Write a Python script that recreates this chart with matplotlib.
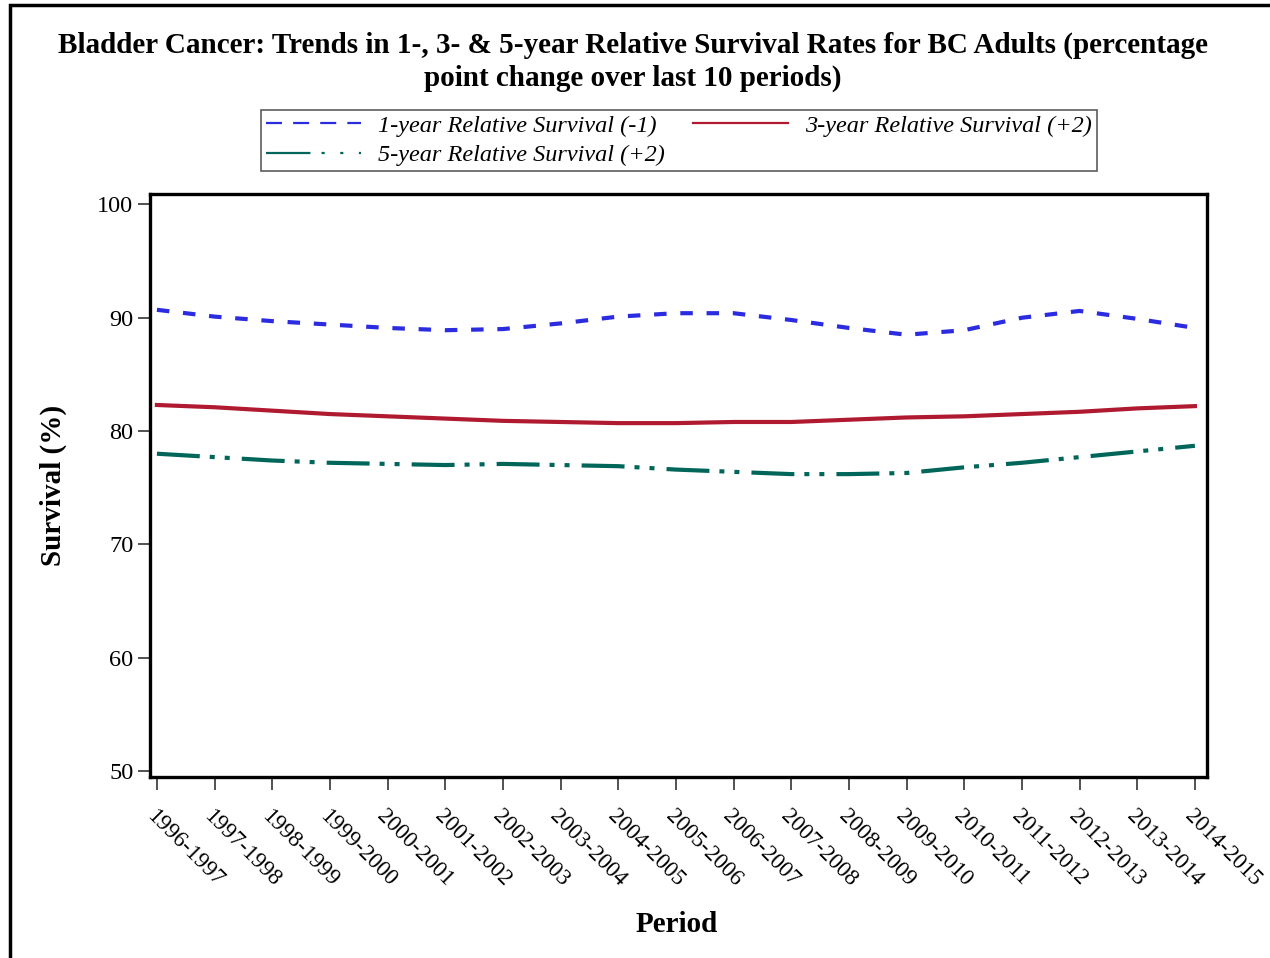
import matplotlib

matplotlib.use("Agg")
import matplotlib.pyplot as plt
from matplotlib.lines import Line2D
from matplotlib.patches import Rectangle

plt.rcParams["font.family"] = ["Liberation Serif", "DejaVu Serif"]

periods = [
    "1996-1997", "1997-1998", "1998-1999", "1999-2000", "2000-2001",
    "2001-2002", "2002-2003", "2003-2004", "2004-2005", "2005-2006",
    "2006-2007", "2007-2008", "2008-2009", "2009-2010", "2010-2011",
    "2011-2012", "2012-2013", "2013-2014", "2014-2015",
]
surv_1yr = [90.7, 90.1, 89.7, 89.4, 89.1, 88.9, 89.0, 89.5, 90.1, 90.4,
            90.4, 89.8, 89.1, 88.5, 88.9, 90.0, 90.6, 89.9, 89.1]
surv_3yr = [82.3, 82.1, 81.8, 81.5, 81.3, 81.1, 80.9, 80.8, 80.7, 80.7,
            80.8, 80.8, 81.0, 81.2, 81.3, 81.5, 81.7, 82.0, 82.2]
surv_5yr = [78.0, 77.7, 77.4, 77.2, 77.1, 77.0, 77.1, 77.0, 76.9, 76.6,
            76.4, 76.2, 76.2, 76.3, 76.8, 77.2, 77.7, 78.2, 78.7]
labels = [
    "1-year Relative Survival (-1)",
    "3-year Relative Survival (+2)",
    "5-year Relative Survival (+2)",
]
yticks = [50, 60, 70, 80, 90, 100]

BLUE = "#2b2be0"
RED = "#b01a30"
GREEN = "#00665a"

fig = plt.figure(figsize=(12.7, 9.58), dpi=100)
W, H = 1270, 958
ax = fig.add_axes([150 / W, 1 - 777 / H, (1207 - 150) / W, (777 - 194) / H])

x = list(range(len(periods)))
ax.plot(x, surv_1yr, color=BLUE, lw=3, ls=(0, (3, 3.3)))
ax.plot(x, surv_3yr, color=RED, lw=3, ls="-")
ax.plot(x, surv_5yr, color=GREEN, lw=3, ls=(0, (10.3, 2.4, 1.2, 2.4, 1.2, 2.9)))

ax.set_xlim(-0.12, 18.21)
ax.set_ylim(49.47, 100.92)
ax.set_yticks(yticks)
ax.set_yticklabels([str(v) for v in yticks], fontsize=17.5)
ax.set_xticks(x)
ax.set_xticklabels(periods, fontsize=16.5, rotation=-45, ha="left", va="top",
                   rotation_mode="anchor")
ax.tick_params(axis="both", direction="out", length=9, width=1.2, color="#333333")
ax.tick_params(axis="x", pad=12)
ax.tick_params(axis="y", pad=3)
for s in ax.spines.values():
    s.set_linewidth(2.4)

ax.set_ylabel("Survival (%)", fontsize=21, fontweight="bold")
ax.yaxis.set_label_coords((67 - 150) / 1057, 0.5)
ax.set_xlabel("Period", fontsize=21, fontweight="bold")
ax.xaxis.set_label_coords((677 - 150) / 1057, (777 - 911) / 583)

title_lines = [
    "Bladder Cancer: Trends in 1-, 3- & 5-year Relative Survival Rates for BC Adults (percentage",
    "point change over last 10 periods)",
]
for i, line in enumerate(title_lines):
    fig.text(633 / W, 1 - (45 + 33 * i) / H, line, ha="center", va="center",
             fontsize=21, fontweight="bold")

h1 = Line2D([], [], color=BLUE, lw=1.6, ls=(0, (7.2, 5)))
h3 = Line2D([], [], color=RED, lw=1.6)
h5 = Line2D([], [], color=GREEN, lw=1.6, ls=(0, (20, 5, 1.4, 7, 1.4, 7)))
leg = fig.legend([h1, h5, h3], [labels[0], labels[2], labels[1]], ncol=2,
                 loc="center", bbox_to_anchor=((261 + 1097) / 2 / W, 1 - 140.5 / H),
                 prop={"size": 17.5, "style": "italic"}, frameon=True, fancybox=False,
                 edgecolor="#333333", handlelength=3.9, handletextpad=0.7,
                 columnspacing=1.15, labelspacing=0.3, borderpad=0.2,
                 borderaxespad=0)
leg.get_frame().set_linewidth(1.2)

fig.add_artist(Rectangle((10 / W, -0.1), 1.2, 1 - 5 / H + 0.1, transform=fig.transFigure,
                         fill=False, edgecolor="black", lw=2.5))

fig.savefig("out.png", dpi=100)
